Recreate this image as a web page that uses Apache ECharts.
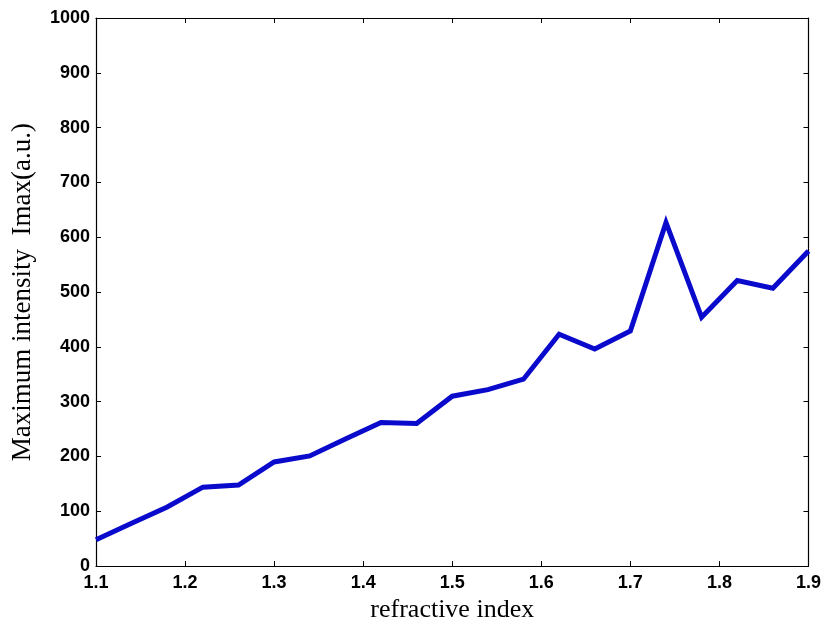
<!DOCTYPE html>
<html>
<head>
<meta charset="utf-8">
<script src="https://cdn.jsdelivr.net/npm/echarts@6/dist/echarts.min.js"></script>
<style>
  html, body { margin: 0; padding: 0; background: #fff; }
  #chart { width: 824px; height: 628px; }
</style>
</head>
<body>
<div id="chart"></div>
<script>
// Refractive index samples and the measured maximum intensity at each
const refractiveIndex = [1.10, 1.14, 1.18, 1.22, 1.26, 1.30, 1.34, 1.38, 1.42, 1.46, 1.50,
                         1.54, 1.58, 1.62, 1.66, 1.70, 1.74, 1.78, 1.82, 1.86, 1.90];
const maxIntensity = [48, 78, 108, 144, 148, 190, 201, 232, 262, 260, 310,
                      322, 341, 423, 396, 429, 627, 454, 521, 507, 575];

const xTitle = 'refractive index';
const yTitle = 'Maximum intensity  Imax(a.u.)';

const points = refractiveIndex.map((x, i) => [x, maxIntensity[i]]);

const tickFont = { fontFamily: 'Liberation Sans, Arial, sans-serif', fontSize: 18, fontWeight: 'bold', color: '#000' };
const serif = 'Liberation Serif, Times New Roman, serif';

const boxAxis = {
  axisLine: { show: true, onZero: false, lineStyle: { color: '#000', width: 1.2 } },
  axisTick: { show: true, inside: true, length: 5, lineStyle: { color: '#000', width: 1 } },
  splitLine: { show: false }
};

const chart = echarts.init(document.getElementById('chart'), null, { renderer: 'canvas' });
chart.setOption({
  backgroundColor: '#fff',
  animation: false,
  grid: { left: 96, right: 13, top: 18, bottom: 56, containLabel: false },
  xAxis: [
    Object.assign({
      type: 'value', position: 'bottom', min: 1.1, max: 1.9, interval: 0.1,
      name: xTitle, nameLocation: 'middle', nameGap: 29,
      nameTextStyle: { fontFamily: serif, fontSize: 26, color: '#000' },
      axisLabel: Object.assign({ margin: 8, formatter: v => v.toFixed(1) }, tickFont)
    }, boxAxis),
    Object.assign({
      type: 'value', position: 'top', min: 1.1, max: 1.9, interval: 0.1,
      axisLabel: { show: false }
    }, boxAxis)
  ],
  yAxis: [
    Object.assign({
      type: 'value', position: 'left', min: 0, max: 1000, interval: 100,
      name: yTitle, nameLocation: 'middle', nameGap: 60, nameRotate: 90,
      nameTextStyle: { fontFamily: serif, fontSize: 27, color: '#000' },
      axisLabel: Object.assign({ margin: 6, formatter: v => String(v) }, tickFont)
    }, boxAxis),
    Object.assign({
      type: 'value', position: 'right', min: 0, max: 1000, interval: 100,
      axisLabel: { show: false }
    }, boxAxis)
  ],
  series: [{
    type: 'line',
    xAxisIndex: 0,
    yAxisIndex: 0,
    data: points,
    symbol: 'none',
    lineStyle: { color: '#0a0acc', width: 5, join: 'miter' },
    clip: false
  }]
});
</script>
</body>
</html>
